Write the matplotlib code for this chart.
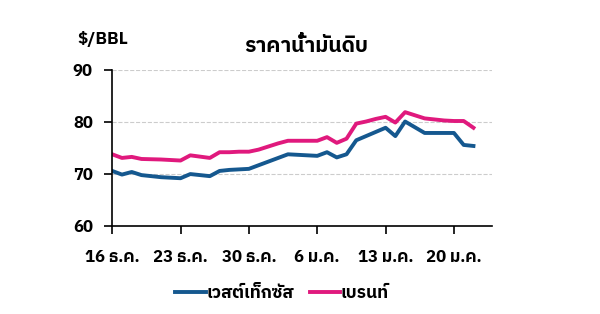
import numpy as np
import matplotlib
matplotlib.use("Agg")
import matplotlib.pyplot as plt
from matplotlib import font_manager

# find a font that can draw Thai (prefer loopless faces)
thai_fonts = []
for f in font_manager.fontManager.ttflist:
    if "Thai" in f.name or "Tlwg" in f.name or "Garuda" in f.name or "Loma" in f.name:
        if f.name not in thai_fonts:
            thai_fonts.append(f.name)
thai_fonts.sort(key=lambda n: ("Looped" in n, n))
plt.rcParams['font.family'] = thai_fonts + ['DejaVu Sans']

# daily values 16 Dec - 22 Jan
wti = [70.6, 69.9, 70.4, 69.8, 69.6, 69.4, 69.3, 69.2, 70.0, 69.8,
       69.6, 70.6, 70.8, 70.9, 71.0, 71.7, 72.4, 73.1, 73.8, 73.7,
       73.6, 73.5, 74.2, 73.2, 73.8, 76.5, 77.3, 78.1, 78.9, 77.3,
       80.1, 79.0, 77.9, 77.9, 77.9, 77.9, 75.6, 75.4]
brent = [73.8, 73.1, 73.3, 72.9, 72.85, 72.8, 72.7, 72.6, 73.6, 73.35,
         73.1, 74.2, 74.2, 74.3, 74.3, 74.7, 75.3, 75.9, 76.4, 76.4,
         76.4, 76.4, 77.1, 76.0, 76.8, 79.7, 80.1, 80.6, 81.0, 79.9,
         81.9, 81.3, 80.7, 80.5, 80.3, 80.2, 80.2, 78.9]
tick_labels = ['16 ธ.ค.', '23 ธ.ค.', '30 ธ.ค.', '6 ม.ค.', '13 ม.ค.', '20 ม.ค.']
series_names = ['เวสต์เท็กซัส', 'เบรนท์']

days = np.arange(len(wti))

fig = plt.figure(figsize=(6, 3.14), dpi=100)
ax = fig.add_axes([0.187, 0.28, 0.633, 0.497])

ax.plot(days, wti, color='#15588f', lw=2.8, label=series_names[0])
ax.plot(days, brent, color='#e0197d', lw=2.8, label=series_names[1])

ax.set_xlim(0, 38.9)
ax.set_ylim(60, 90)
ax.set_yticks([60, 70, 80, 90])
ax.set_xticks(np.arange(0, 36, 7))
ax.set_xticklabels(tick_labels)
ax.yaxis.grid(True, color='#cccccc', ls='--', lw=0.8)
ax.set_axisbelow(True)
for s in ['top', 'right']:
    ax.spines[s].set_visible(False)
ax.spines['left'].set_linewidth(1.2)
ax.spines['bottom'].set_linewidth(1.2)
ax.tick_params(labelsize=12, length=6, width=1.2)
ax.tick_params(axis='y', pad=8)
ax.tick_params(axis='x', pad=11)
for lab in ax.get_xticklabels() + ax.get_yticklabels():
    lab.set_fontweight('bold')

fig.text(0.51, 0.855, 'ราคาน้ำมันดิบ', ha='center', va='center',
         fontsize=15, fontweight='bold')
fig.text(0.172, 0.875, '$/BBL', ha='center', va='center',
         fontsize=12.5, fontweight='bold')

fig.legend(loc='center', bbox_to_anchor=(0.47, 0.067), ncol=2, frameon=False,
           prop={'size': 12.5, 'weight': 'bold'}, handlelength=1.75,
           handletextpad=0.05, columnspacing=0.9)

fig.savefig('out.png', dpi=100)
